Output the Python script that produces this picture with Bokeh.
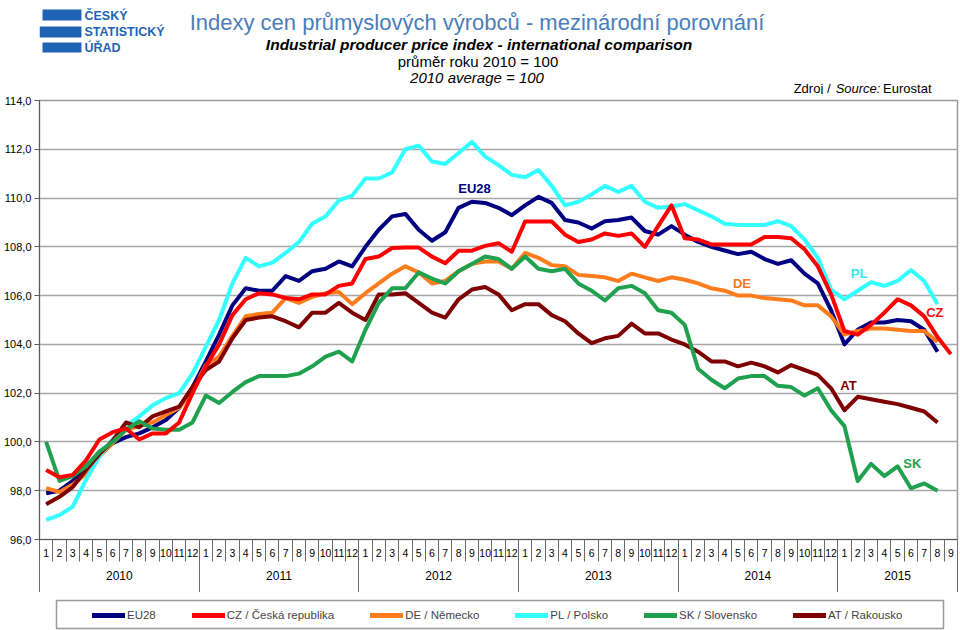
from bokeh.plotting import figure
from bokeh.layouts import column
from bokeh.models import (Range1d, FixedTicker, LinearAxis, Label, Legend,
                          LegendItem)
from bokeh.embed import file_html
from bokeh.resources import INLINE

# ---------------- data ----------------
month_labels = [str(m) for m in list(range(1, 13)) * 5 + list(range(1, 10))]
years = ["2010", "2011", "2012", "2013", "2014", "2015"]
year_centers = [5.5, 17.5, 29.5, 41.5, 53.5, 64.0]
year_bounds = [-0.5, 11.5, 23.5, 35.5, 47.5, 59.5, 68.5]
y_ticks = [96, 98, 100, 102, 104, 106, 108, 110, 112, 114]
y_tick_labels = ["96,0", "98,0", "100,0", "102,0", "104,0", "106,0",
                 "108,0", "110,0", "112,0", "114,0"]

eu28 = [97.9, 98.0, 98.4, 99.0, 99.55, 99.95, 100.2, 100.35, 100.6, 100.9,
        101.4, 102.25, 103.3, 104.4, 105.6, 106.3, 106.2, 106.2, 106.8, 106.6,
        107.0, 107.1, 107.4, 107.2, 108.0, 108.7, 109.25, 109.35, 108.7, 108.25,
        108.6, 109.6, 109.85, 109.8, 109.6, 109.3, 109.7, 110.05, 109.8, 109.1,
        109.0, 108.75, 109.05, 109.1, 109.2, 108.65, 108.5, 108.85, 108.5, 108.2,
        108.0, 107.85, 107.7, 107.8, 107.5, 107.3, 107.45, 106.9, 106.5, 105.4,
        104.0, 104.6, 104.9, 104.9, 105.0, 104.95, 104.6, 103.7]
cz = [98.85, 98.55, 98.65, 99.25, 100.1, 100.4, 100.55, 100.1, 100.35, 100.35,
      100.8, 102.0, 103.1, 104.0, 105.2, 105.85, 106.1, 106.05, 105.9, 105.85,
      106.05, 106.05, 106.4, 106.5, 107.5, 107.6, 107.95, 107.97, 107.97, 107.6,
      107.33, 107.84, 107.84, 108.04, 108.15, 107.8, 109.04, 109.04, 109.04, 108.5,
      108.2, 108.3, 108.55, 108.45, 108.55, 108.0, 108.85, 109.7, 108.35, 108.3,
      108.1, 108.1, 108.1, 108.1, 108.4, 108.4, 108.35, 107.9, 107.2, 106.05,
      104.55, 104.4, 104.8, 105.3, 105.85, 105.6, 105.15, 104.3, 103.6]
de = [98.1, 97.95, 98.25, 98.7, 99.4, 99.95, 100.5, 100.65, 100.8, 101.1,
      101.4, 102.1, 103.15, 103.5, 104.35, 105.15, 105.25, 105.3, 105.9, 105.7,
      105.95, 106.1, 106.15, 105.65, 106.1, 106.5, 106.9, 107.2, 106.95, 106.5,
      106.6, 107.0, 107.3, 107.4, 107.4, 107.1, 107.75, 107.55, 107.25, 107.2,
      106.85, 106.8, 106.75, 106.6, 106.9, 106.75, 106.6, 106.75, 106.65, 106.5,
      106.3, 106.2, 106.0, 106.0, 105.9, 105.85, 105.8, 105.6, 105.6, 105.15,
      104.4, 104.55, 104.65, 104.65, 104.6, 104.55, 104.55, 104.1]
pl = [96.8, 97.0, 97.35, 98.45, 99.4, 100.1, 100.65, 101.05, 101.5, 101.8,
      102.0, 102.8, 103.9, 105.0, 106.5, 107.55, 107.2, 107.35, 107.75, 108.2,
      108.95, 109.25, 109.9, 110.1, 110.8, 110.8, 111.05, 112.0, 112.15, 111.5,
      111.4, 111.85, 112.3, 111.7, 111.35, 110.95, 110.85, 111.15, 110.5, 109.7,
      109.85, 110.15, 110.5, 110.25, 110.5, 109.85, 109.6, 109.65, 109.75, 109.5,
      109.25, 108.95, 108.9, 108.9, 108.9, 109.05, 108.85, 108.3, 107.55, 106.25,
      105.85, 106.2, 106.55, 106.4, 106.6, 107.05, 106.6, 105.65]
sk = [100.0, 98.4, 98.6, 99.0, 99.6, 100.0, 100.5, 100.85, 100.55, 100.5,
      100.5, 100.8, 101.9, 101.6, 102.05, 102.45, 102.7, 102.7, 102.7, 102.8,
      103.1, 103.5, 103.7, 103.3, 104.6, 105.7, 106.3, 106.3, 106.95, 106.7,
      106.5, 107.0, 107.3, 107.6, 107.5, 107.1, 107.6, 107.1, 107.0, 107.1,
      106.5, 106.2, 105.8, 106.3, 106.4, 106.1, 105.4, 105.3, 104.8, 103.0,
      102.55, 102.2, 102.6, 102.7, 102.7, 102.3, 102.25, 101.9, 102.2, 101.3,
      100.65, 98.4, 99.1, 98.6, 99.0, 98.1, 98.3, 98.0]
at = [97.45, 97.75, 98.15, 98.85, 99.5, 100.05, 100.8, 100.6, 101.05, 101.25,
      101.45, 102.25, 102.95, 103.3, 104.25, 105.0, 105.1, 105.15, 104.95, 104.7,
      105.3, 105.3, 105.7, 105.3, 105.0, 106.05, 106.05, 106.1, 105.7, 105.3,
      105.1, 105.85, 106.25, 106.35, 106.05, 105.4, 105.65, 105.65, 105.2, 104.95,
      104.45, 104.05, 104.25, 104.35, 104.85, 104.45, 104.45, 104.2, 104.0, 103.7,
      103.3, 103.3, 103.1, 103.25, 103.1, 102.85, 103.15, 102.95, 102.75, 102.2,
      101.3, 101.85, 101.75, 101.65, 101.55, 101.4, 101.25, 100.8]

series_names = ["EU28", "CZ / Česká republika", "DE / Německo", "PL / Polsko",
                "SK / Slovensko", "AT / Rakousko"]
series_values = [eu28, cz, de, pl, sk, at]
series_colors = ["#000080", "#ff0000", "#ff7c1c", "#33ffff", "#1fa14f", "#7f0000"]
tag_colors = ["#000080", "#ee1111", "#f07820", "#30e8ee", "#1fa14f", "#7f0000"]
draw_order = [0, 2, 3, 5, 4, 1]

tag_texts = ["EU28", "DE", "PL", "CZ", "AT", "SK"]
tag_series = [0, 2, 3, 1, 5, 4]
tag_x = [32.2, 52.3, 61.1, 66.8, 60.3, 65.1]
tag_y = [110.4, 106.5, 106.9, 105.3, 102.3, 99.1]

FONT = "'Liberation Sans', Arial, sans-serif"
W = 960
FRAME_L, FRAME_R = 38, 957          # plot-area edges (page pixels)
H_HDR, H_MAIN, H_LEG = 94, 498, 38  # stacked heights

# ---------------- header (logo + titles) ----------------
hdr = figure(width=W, height=H_HDR, output_backend="svg", toolbar_location=None,
             x_range=Range1d(FRAME_L, FRAME_R), y_range=Range1d(H_HDR, 0),
             x_axis_type=None, y_axis_type=None, min_border=0,
             min_border_left=FRAME_L, min_border_right=W - FRAME_R)
hdr.outline_line_color = None
hdr.xgrid.visible = False
hdr.ygrid.visible = False

logo_blue = "#1f64b4"
hdr.quad(left=[41, 38, 41], right=[80, 80, 80], top=[9, 26, 42],
         bottom=[20, 37, 52], fill_color=logo_blue, line_color=None)


def htext(fig, text, x, y, size, color="black", style="normal", align="center"):
    fig.add_layout(Label(x=x, y=y, text=text, text_font=FONT, text_font_size=size,
                         text_color=color, text_font_style=style,
                         text_align=align, text_baseline="middle"))


htext(hdr, "ČESKÝ", 83, 15, "12.5px", color=logo_blue, style="bold", align="left")
htext(hdr, "STATISTICKÝ", 83, 31, "12.5px", color=logo_blue, style="bold", align="left")
htext(hdr, "ÚŘAD", 83, 47, "12.5px", color=logo_blue, style="bold", align="left")

htext(hdr, "Indexy cen průmyslových výrobců - mezinárodní porovnání", 476, 22,
      "22px", color="#4a7ebb")
htext(hdr, "Industrial producer price index - international comparison", 478, 44,
      "15.5px", style="bold italic")
htext(hdr, "průměr roku 2010 = 100", 477, 61, "15px")
htext(hdr, "2010 average = 100", 476, 77, "15px", style="italic")
htext(hdr, "Zdroj / ", 793, 87.5, "13px", align="left")
htext(hdr, "Source:", 835, 87.5, "13px", style="italic", align="left")
htext(hdr, "Eurostat", 931, 87.5, "13px", align="right")

# ---------------- main chart ----------------
p = figure(width=W, height=H_MAIN, output_backend="svg", toolbar_location=None,
           x_range=Range1d(-0.5, 68.5), y_range=Range1d(96, 114),
           min_border_left=FRAME_L, min_border_right=W - FRAME_R,
           min_border_top=6, min_border_bottom=53)
p.outline_line_color = "#9a9a9a"
p.outline_line_width = 1.5
p.xgrid.visible = False
p.ygrid.ticker = FixedTicker(ticks=y_ticks)
p.ygrid.grid_line_color = "#a6a6a6"
p.ygrid.grid_line_width = 1.5

ya = p.yaxis[0]
ya.ticker = FixedTicker(ticks=y_ticks)
ya.major_label_overrides = dict(zip(y_ticks, y_tick_labels))
ya.major_label_text_font = FONT
ya.major_label_text_font_size = "11px"
ya.major_label_text_color = "black"
ya.major_tick_out = 5
ya.major_tick_in = 0
ya.minor_tick_out = 0
ya.major_label_standoff = 3
ya.axis_line_color = "#5a5a5a"
ya.major_tick_line_color = "#5a5a5a"

xa = p.xaxis[0]
xa.ticker = FixedTicker(ticks=list(range(69)),
                        minor_ticks=[i - 0.5 for i in range(70)])
xa.major_label_overrides = {i: month_labels[i] for i in range(69)}
xa.major_label_text_font = FONT
xa.major_label_text_font_size = "10.5px"
xa.major_label_text_color = "black"
xa.major_tick_out = 0
xa.major_tick_in = 0
xa.minor_tick_out = 22
xa.minor_tick_in = 0
xa.minor_tick_line_color = "#6a6a6a"
xa.major_label_standoff = -13
xa.axis_line_color = "#5a5a5a"

yr = LinearAxis(ticker=FixedTicker(ticks=year_centers, minor_ticks=year_bounds),
                major_label_overrides={c: y for c, y in zip(year_centers, years)})
yr.major_label_text_font = FONT
yr.major_label_text_font_size = "12px"
yr.major_label_text_color = "black"
yr.major_tick_out = 0
yr.major_tick_in = 0
yr.minor_tick_out = 35
yr.minor_tick_in = 0
yr.minor_tick_line_color = "#6a6a6a"
yr.major_label_standoff = -24
yr.axis_line_color = None
p.add_layout(yr, "below")

for k in draw_order:
    vals = series_values[k]
    p.line(list(range(len(vals))), vals, line_color=series_colors[k],
           line_width=4, line_join="round")

for t, s, x, y in zip(tag_texts, tag_series, tag_x, tag_y):
    p.add_layout(Label(x=x, y=y, text=t, text_color=tag_colors[s],
                       text_font=FONT, text_font_style="bold",
                       text_font_size="13px", text_align="center",
                       text_baseline="middle"))

# ---------------- legend strip ----------------
top_leg = H_HDR + H_MAIN
lf = figure(width=W, height=H_LEG, output_backend="svg", toolbar_location=None,
            x_range=Range1d(FRAME_L, FRAME_R),
            y_range=Range1d(top_leg + H_LEG, top_leg),
            x_axis_type=None, y_axis_type=None, min_border=0,
            min_border_left=FRAME_L, min_border_right=W - FRAME_R)
lf.outline_line_color = None
lf.xgrid.visible = False
lf.ygrid.visible = False
lf.quad(left=[55], right=[943], top=[600], bottom=[628], fill_color=None,
        line_color="#9a9a9a", line_width=1.5)
items = []
for k in range(6):
    vals = series_values[k]
    # series drawn again here only to feed the legend swatches (outside the view)
    r = lf.line(x=list(range(len(vals))), y=vals, line_color=series_colors[k],
                line_width=5, line_cap="round")
    items.append(LegendItem(label=series_names[k], renderers=[r]))
legend = Legend(items=items, orientation="horizontal", location=(91 - FRAME_L, 9),
                label_text_font=FONT, label_text_font_size="11.5px",
                glyph_width=33, glyph_height=12, label_standoff=2, spacing=36,
                padding=5, border_line_color=None, background_fill_alpha=0,
                margin=0)
lf.add_layout(legend)

layout = column(hdr, p, lf, spacing=0)
open("out.html", "w").write(file_html(layout, INLINE))
